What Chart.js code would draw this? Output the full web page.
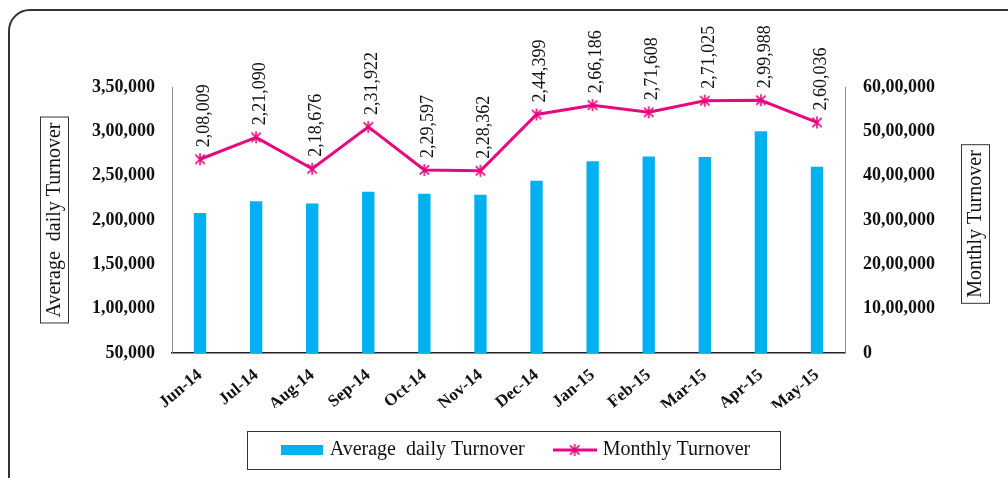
<!DOCTYPE html>
<html>
<head>
<meta charset="utf-8">
<script src="https://cdn.jsdelivr.net/npm/chart.js@4.4.1/dist/chart.umd.min.js"></script>
<style>
  html, body { margin: 0; padding: 0; background: #fff; overflow: hidden; }
  #wrap { position: relative; width: 1008px; height: 478px; }
  #frame { position: absolute; left: 8px; top: 9px; width: 1030px; height: 500px; border: 2px solid #333; border-radius: 22px; box-sizing: border-box; pointer-events: none; }
  canvas { position: absolute; left: 0; top: 0; }
</style>
</head>
<body>
<div id="wrap">
  <canvas id="c" width="1008" height="478"></canvas>
  <div id="frame"></div>
</div>
<script>
// ---- Data ----
const months = ['Jun-14','Jul-14','Aug-14','Sep-14','Oct-14','Nov-14','Dec-14','Jan-15','Feb-15','Mar-15','Apr-15','May-15'];
const avgDailyTurnover = [208009, 221090, 218676, 231922, 229597, 228362, 244399, 266186, 271608, 271025, 299988, 260036];
const avgDailyLabels = ['2,08,009','2,21,090','2,18,676','2,31,922','2,29,597','2,28,362','2,44,399','2,66,186','2,71,608','2,71,025','2,99,988','2,60,036'];
const monthlyTurnover = [4370000, 4865000, 4155000, 5100000, 4130000, 4110000, 5380000, 5590000, 5430000, 5690000, 5700000, 5200000];
const leftTickLabels = ['50,000','1,00,000','1,50,000','2,00,000','2,50,000','3,00,000','3,50,000'];
const rightTickLabels = ['0','10,00,000','20,00,000','30,00,000','40,00,000','50,00,000','60,00,000'];
const leftTitle = 'Average  daily Turnover';
const rightTitle = 'Monthly Turnover';

const BAR = '#00B0F0';
const LINE = '#E6087F';
const FONT = "'Liberation Serif', 'Times New Roman', serif";

function makeStar(size, lw) {
  const c = document.createElement('canvas');
  c.width = size; c.height = size;
  const g = c.getContext('2d');
  const m = size / 2, r = size / 2 - 1;
  g.strokeStyle = LINE; g.lineWidth = lw;
  g.beginPath();
  g.moveTo(m, m - r); g.lineTo(m, m + r);
  const d = r * 0.78;
  g.moveTo(m - d, m - d); g.lineTo(m + d, m + d);
  g.moveTo(m - d, m + d); g.lineTo(m + d, m - d);
  g.stroke();
  return c;
}
const starImg = makeStar(14, 1.6);

function makeLegendLine() {
  const c = document.createElement('canvas');
  c.width = 44; c.height = 14;
  const g = c.getContext('2d');
  g.strokeStyle = LINE; g.lineWidth = 3;
  g.beginPath(); g.moveTo(0, 7); g.lineTo(44, 7); g.stroke();
  g.drawImage(makeStar(14, 1.6), 15, 0);
  return c;
}
function makeLegendBar() {
  const c = document.createElement('canvas');
  c.width = 42; c.height = 10;
  const g = c.getContext('2d');
  g.fillStyle = BAR; g.fillRect(0, 0, 42, 10);
  return c;
}
const legendBar = makeLegendBar();
const legendLine = makeLegendLine();

const decorPlugin = {
  id: 'decor',
  afterLayout(chart) {
    const lg = chart.legend;
    if (lg) { lg.left += 13; lg.right += 13; }
  },
  afterDatasetsDraw(chart) {
    const ctx = chart.ctx;
    const meta = chart.getDatasetMeta(1);
    ctx.save();
    ctx.font = '18px ' + FONT;
    ctx.fillStyle = '#111';
    ctx.textAlign = 'left';
    ctx.textBaseline = 'middle';
    meta.data.forEach((pt, i) => {
      ctx.save();
      ctx.translate(pt.x + 4, pt.y - 12);
      ctx.rotate(-Math.PI / 2);
      ctx.fillText(avgDailyLabels[i], 0, 0);
      ctx.restore();
    });
    ctx.restore();
  },
  afterDraw(chart) {
    const ctx = chart.ctx;
    ctx.save();
    ctx.font = '20px ' + FONT;
    ctx.fillStyle = '#111';
    ctx.strokeStyle = '#333';
    ctx.lineWidth = 1;
    ctx.textAlign = 'center';
    ctx.textBaseline = 'middle';
    const drawTitle = (text, cx, cy) => {
      const w = ctx.measureText(text).width;
      ctx.save();
      ctx.translate(cx, cy);
      ctx.rotate(-Math.PI / 2);
      ctx.fillText(text, 0, 1);
      ctx.strokeRect(-w / 2 - 5.5, -13.5, w + 11, 28);
      ctx.restore();
    };
    drawTitle(leftTitle, 54, 220);
    drawTitle(rightTitle, 975, 224);
    const lg = chart.legend;
    if (lg && lg.legendHitBoxes && lg.legendHitBoxes.length) {
      const hb = lg.legendHitBoxes;
      const l = Math.min(...hb.map(h => h.left));
      const r = Math.max(...hb.map(h => h.left + h.width));
      const t = Math.min(...hb.map(h => h.top));
      const b = Math.max(...hb.map(h => h.top + h.height));
      const cy = (t + b) / 2;
      ctx.strokeRect(Math.round(l - 37) + 0.5, Math.round(cy - 19) + 0.5, Math.round(r - l + 66), 38);
    }
    ctx.restore();
  }
};

const ctx = document.getElementById('c').getContext('2d');
new Chart(ctx, {
  data: {
    labels: months,
    datasets: [
      {
        type: 'bar',
        label: 'Average  daily Turnover',
        data: avgDailyTurnover,
        backgroundColor: BAR,
        borderWidth: 0,
        yAxisID: 'y',
        categoryPercentage: 1,
        barPercentage: 0.22,
        order: 2
      },
      {
        type: 'line',
        label: 'Monthly Turnover',
        data: monthlyTurnover,
        borderColor: LINE,
        backgroundColor: LINE,
        borderWidth: 3,
        pointStyle: starImg,
        pointRadius: 7,
        tension: 0,
        yAxisID: 'y1',
        order: 1
      }
    ]
  },
  options: {
    responsive: false,
    animation: false,
    layout: { padding: { top: 87, left: 0, right: 0, bottom: 8 } },
    plugins: {
      tooltip: { enabled: false },
      legend: {
        display: true,
        position: 'bottom',
        labels: {
          usePointStyle: true,
          pointStyleWidth: 36,
          boxHeight: 14,
          padding: 32,
          color: '#111',
          font: { family: FONT, size: 20 },
          generateLabels(chart) {
            const items = Chart.defaults.plugins.legend.labels.generateLabels(chart);
            items.sort((a, b) => a.datasetIndex - b.datasetIndex);
            items.forEach(it => { it.pointStyle = it.datasetIndex === 0 ? legendBar : legendLine; });
            return items;
          }
        }
      }
    },
    scales: {
      x: {
        grid: { display: false },
        border: { display: true, color: '#222', width: 1.5 },
        ticks: {
          color: '#111',
          font: { family: FONT, size: 17, weight: 'bold' },
          minRotation: 40, maxRotation: 40,
          padding: 4
        },
        afterFit(scale) { scale.height = 478 - 353 - scale.chart.legend.height - 8; }
      },
      y: {
        position: 'left',
        min: 50000, max: 350000,
        grid: { display: false },
        border: { display: true, color: '#888', width: 1 },
        ticks: {
          stepSize: 50000,
          padding: 9,
          color: '#111',
          font: { family: FONT, size: 18, weight: 'bold' },
          callback(v, i) { return leftTickLabels[i]; }
        },
        afterFit(scale) { scale.width = 172; }
      },
      y1: {
        position: 'right',
        min: 0, max: 6000000,
        grid: { display: false },
        border: { display: true, color: '#888', width: 1 },
        ticks: {
          stepSize: 1000000,
          padding: 10,
          color: '#111',
          font: { family: FONT, size: 18, weight: 'bold' },
          callback(v, i) { return rightTickLabels[i]; }
        },
        afterFit(scale) { scale.width = 1008 - 845; }
      }
    }
  },
  plugins: [decorPlugin]
});
</script>
</body>
</html>
